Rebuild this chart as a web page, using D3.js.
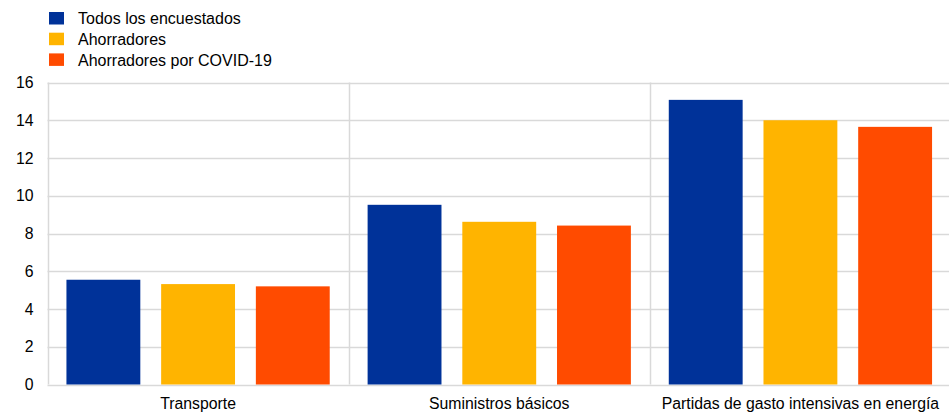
<!DOCTYPE html>
<html>
<head>
<meta charset="utf-8">
<script src="https://cdn.jsdelivr.net/npm/d3@7"></script>
<style>
  html, body { margin: 0; padding: 0; background: #fff; }
  svg { display: block; font-family: "Liberation Sans", Arial, sans-serif; }
</style>
</head>
<body>
<svg id="chart" width="949" height="414"></svg>
<script>
// Spending categories and survey groups
const categories = ["Transporte", "Suministros básicos", "Partidas de gasto intensivas en energía"];
const seriesNames = ["Todos los encuestados", "Ahorradores", "Ahorradores por COVID-19"];
const seriesColors = ["#003299", "#ffb400", "#ff4b00"];

// Values per series, in category order
const todos = [5.55, 9.52, 15.08];
const ahorradores = [5.32, 8.62, 14.0];
const covid = [5.2, 8.42, 13.65];
const seriesValues = [todos, ahorradores, covid];

const yTicks = [0, 2, 4, 6, 8, 10, 12, 14, 16];

(function () {
  const svg = d3.select("#chart");
  const plotLeft = 47.5, plotRight = 951, plotTop = 82.5, plotBottom = 384.5;
  const fontSize = 15.8;

  const x0 = d3.scaleBand().domain(categories).range([plotLeft, plotRight]).padding(0);
  const x1 = d3.scaleBand().domain(seriesNames).range([0, x0.bandwidth()])
    .paddingInner(0.22).paddingOuter(0.2);
  const y = d3.scaleLinear().domain([0, 16]).range([plotBottom, plotTop]);

  const grid = "#d9d9d9";

  // horizontal gridlines
  svg.append("g").selectAll("line").data(yTicks).join("line")
    .attr("x1", plotLeft).attr("x2", plotRight)
    .attr("y1", d => Math.round(y(d)) + 0.5).attr("y2", d => Math.round(y(d)) + 0.5)
    .attr("stroke", grid).attr("stroke-width", 1.5);

  // vertical category separators
  const seps = categories.map(c => x0(c)).concat([plotRight]);
  svg.append("g").selectAll("line").data(seps).join("line")
    .attr("x1", d => Math.round(d) + 0.5).attr("x2", d => Math.round(d) + 0.5)
    .attr("y1", plotTop).attr("y2", plotBottom)
    .attr("stroke", grid).attr("stroke-width", 1.5);

  // bars
  const groups = svg.append("g").selectAll("g").data(categories).join("g")
    .attr("transform", c => `translate(${x0(c)},0)`);
  groups.selectAll("rect")
    .data((c, ci) => seriesNames.map((s, si) => ({ s, si, v: seriesValues[si][ci] })))
    .join("rect")
    .attr("x", d => x1(d.s))
    .attr("width", x1.bandwidth())
    .attr("y", d => y(d.v))
    .attr("height", d => y(0) - y(d.v))
    .attr("fill", d => seriesColors[d.si]);

  // y-axis labels
  svg.append("g").selectAll("text").data(yTicks).join("text")
    .attr("x", 33.5).attr("y", d => y(d)).attr("dy", "0.35em")
    .attr("text-anchor", "end").attr("font-size", fontSize).attr("fill", "#000")
    .text(d => d);

  // category labels
  svg.append("g").selectAll("text").data(categories).join("text")
    .attr("x", c => x0(c) + x0.bandwidth() / 2).attr("y", 408.5)
    .attr("text-anchor", "middle").attr("font-size", fontSize).attr("fill", "#000")
    .text(c => c);

  // legend
  const legend = svg.append("g").selectAll("g").data(seriesNames).join("g")
    .attr("transform", (d, i) => `translate(49,${12 + i * 20.7})`);
  legend.append("rect").attr("width", 15).attr("height", 12.5)
    .attr("fill", (d, i) => seriesColors[i]);
  legend.append("text").attr("x", 29).attr("y", 6.5).attr("dy", "0.35em")
    .attr("font-size", 16).attr("fill", "#000").text(d => d);
})();
</script>
</body>
</html>
